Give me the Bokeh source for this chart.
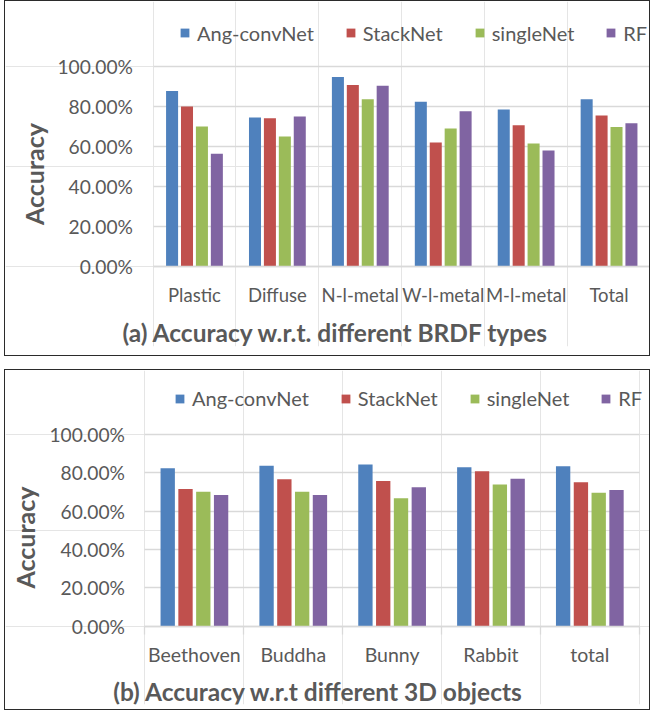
from bokeh.plotting import figure
from bokeh.models import (ColumnDataSource, Range1d, FixedTicker, NumeralTickFormatter,
                          Legend, LegendItem, Label, LinearAxis, Grid)
from bokeh.layouts import column
from bokeh.embed import file_html
from bokeh.resources import INLINE
from bokeh.transform import dodge

series = ["Ang-convNet", "StackNet", "singleNet", "RF"]
colors = ["#4F81BD", "#C0504D", "#9BBB59", "#8064A2"]

brdf_types = ["Plastic", "Diffuse", "N-l-metal", "W-l-metal", "M-l-metal", "Total"]
brdf_ang = [0.875, 0.742, 0.945, 0.821, 0.782, 0.834]
brdf_stack = [0.798, 0.739, 0.905, 0.617, 0.704, 0.752]
brdf_single = [0.697, 0.647, 0.834, 0.687, 0.612, 0.695]
brdf_rf = [0.561, 0.747, 0.901, 0.774, 0.578, 0.714]

objects = ["Beethoven", "Buddha", "Bunny", "Rabbit", "total"]
obj_ang = [0.823, 0.836, 0.842, 0.828, 0.833]
obj_stack = [0.715, 0.766, 0.757, 0.807, 0.750]
obj_single = [0.701, 0.701, 0.667, 0.738, 0.696]
obj_rf = [0.684, 0.684, 0.724, 0.769, 0.710]

y_ticks = [0, 0.2, 0.4, 0.6, 0.8, 1.0]

FONT = "Lato"
GRAY = "#595959"
GRID = "#D9D9D9"
offsets = [-0.27, -0.09, 0.09, 0.27]
HAS_CROSS = "cross_bounds" in Grid.properties()


def make_panel(cats, vals, title, width, height, bb, x_rng, y_rng,
               leg_loc, title_pos, boundary_ticks, cat_size, cat_standoff):
    n = len(cats)
    xs = [i + 0.5 for i in range(n)]
    data = {"x": xs}
    keys = ["s0", "s1", "s2", "s3"]
    for k, v in zip(keys, vals):
        data[k] = v
    src = ColumnDataSource(data)
    p = figure(width=width, height=height, output_backend="svg", toolbar_location=None,
               x_range=Range1d(*x_rng), y_range=Range1d(*y_rng),
               min_border_left=0, min_border_top=0, min_border_bottom=bb,
               min_border_right=0, tools="", x_axis_location=None,
               y_axis_location=None)
    p.outline_line_color = None
    p.styles = {"border": "1.5px solid #2b2b2b", "margin-left": "4px"}

    grid = Grid(dimension=1, ticker=FixedTicker(ticks=y_ticks), grid_line_color=GRID,
                grid_line_width=1.3)
    if HAS_CROSS:
        grid.cross_bounds = (0, n)
    p.add_layout(grid)

    items = []
    for k, name, c, off in zip(keys, series, colors, offsets):
        r = p.vbar(x=dodge("x", off), top=k, width=0.145, bottom=0, source=src,
                   fill_color=c, line_color=None)
        items.append(LegendItem(label=name, renderers=[r]))
    leg = Legend(items=items, orientation="horizontal", location=leg_loc,
                 glyph_width=11, glyph_height=11, label_standoff=7, spacing=31,
                 padding=0, margin=0, border_line_color=None, background_fill_alpha=0,
                 label_text_font=FONT, label_text_font_size="20px",
                 label_text_color=GRAY, label_height=20)
    p.add_layout(leg)

    ya = LinearAxis(ticker=FixedTicker(ticks=y_ticks), fixed_location=0,
                    formatter=NumeralTickFormatter(format="0.00%"))
    ya.axis_line_color = None
    ya.major_tick_line_color = None
    ya.minor_tick_line_color = None
    ya.major_tick_out = 0
    ya.major_tick_in = 0
    ya.major_label_standoff = 20
    ya.major_label_text_font = FONT
    ya.major_label_text_font_size = "19.2px"
    ya.major_label_text_color = GRAY
    ya.axis_label = "Accuracy"
    ya.axis_label_text_font = FONT
    ya.axis_label_text_font_style = "bold"
    ya.axis_label_text_font_size = "25px"
    ya.axis_label_text_color = GRAY
    ya.axis_label_standoff = 6
    p.add_layout(ya, "left")

    if boundary_ticks:
        ticker = FixedTicker(ticks=xs, minor_ticks=list(range(n + 1)))
    else:
        ticker = FixedTicker(ticks=xs)
    xa = LinearAxis(ticker=ticker, fixed_location=0, bounds=(0, n))
    if boundary_ticks:
        xa.minor_tick_line_color = GRID
        xa.minor_tick_line_width = 1.3
        xa.minor_tick_out = 8
        xa.minor_tick_in = 0
    else:
        xa.minor_tick_line_color = None
    xa.major_label_overrides = {x: c for x, c in zip(xs, cats)}
    xa.axis_line_color = GRID
    xa.axis_line_width = 1.3
    xa.major_tick_line_color = None
    xa.major_tick_out = 0
    xa.major_tick_in = 0
    xa.major_label_standoff = cat_standoff
    xa.major_label_text_font = FONT
    xa.major_label_text_font_size = cat_size
    xa.major_label_text_color = GRAY
    p.add_layout(xa, "below")

    p.add_layout(Label(x=title_pos[0], y=title_pos[1], text=title, text_font=FONT,
                       text_font_style="bold", text_font_size="24.5px", text_color=GRAY,
                       text_align="center", text_baseline="middle"))
    return p


p1 = make_panel(brdf_types, [brdf_ang, brdf_stack, brdf_single, brdf_rf],
                "(a) Accuracy w.r.t. different BRDF types",
                width=646, height=356, bb=11,
                x_rng=(-1.779, 6.012), y_rng=(-0.4025, 1.3225),
                leg_loc=(174, 301.5), title_pos=(2.207, -0.33), boundary_ticks=False,
                cat_size="18.5px", cat_standoff=18)
p2 = make_panel(objects, [obj_ang, obj_stack, obj_single, obj_rf],
                "(b) Accuracy w.r.t different 3D objects",
                width=646, height=341, bb=7,
                x_rng=(-1.411, 5.124), y_rng=(-0.407, 1.332),
                leg_loc=(169, 294), title_pos=(1.755, -0.337), boundary_ticks=True,
                cat_size="19.5px", cat_standoff=9)

layout = column(p1, p2, spacing=13)
open("out.html", "w").write(file_html(layout, INLINE))
